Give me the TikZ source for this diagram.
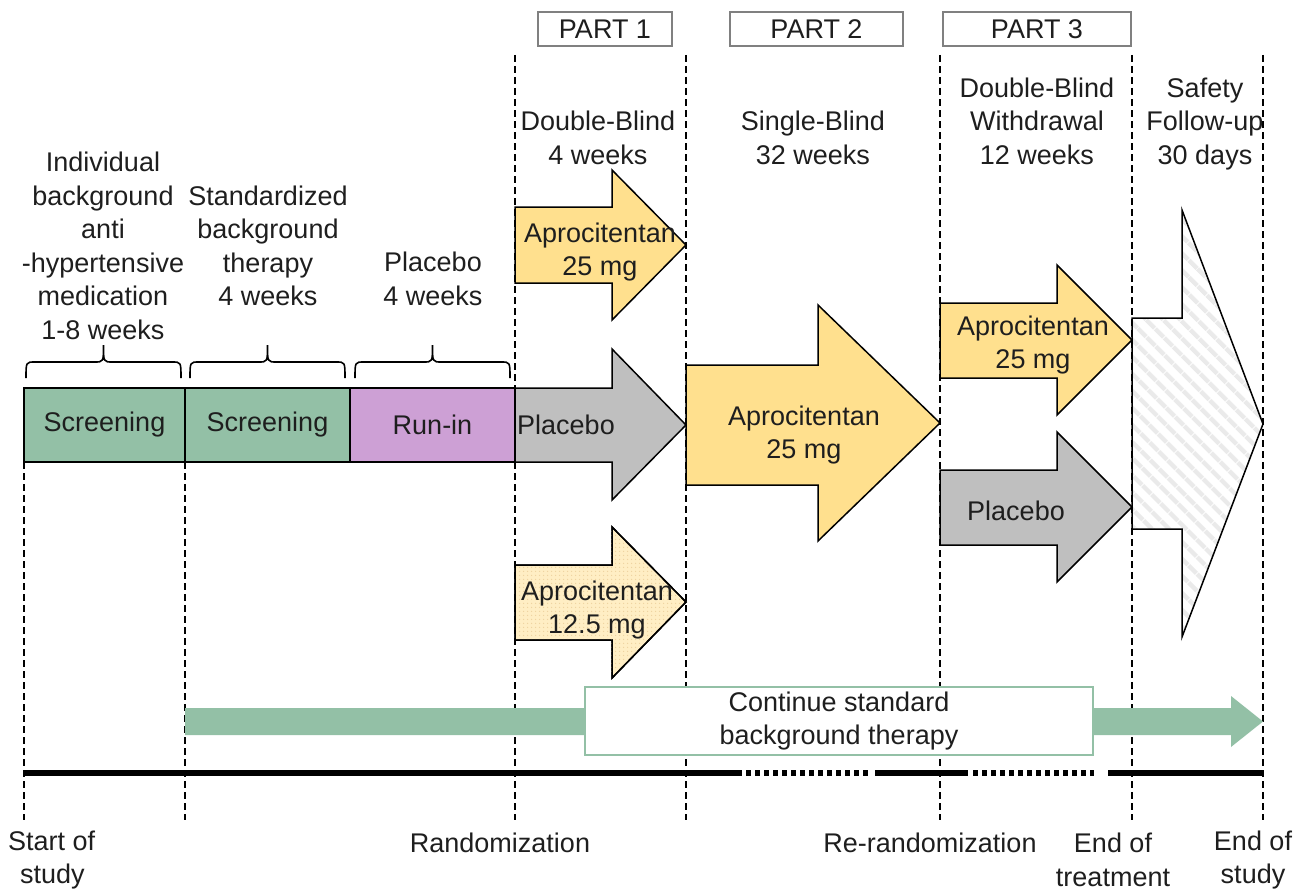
\documentclass[tikz,border=0pt]{standalone}
\usepackage{fontspec}
\setmainfont{Liberation Sans}
\usetikzlibrary{patterns,patterns.meta}

\definecolor{scrgreen}{RGB}{147,192,166}
\definecolor{runpurple}{RGB}{205,160,213}
\definecolor{apyellow}{RGB}{255,224,142}
\definecolor{aplight}{RGB}{255,238,196}
\definecolor{apdots}{RGB}{238,210,158}
\definecolor{plgray}{RGB}{191,191,191}
\definecolor{txt}{RGB}{30,30,30}
\definecolor{hatch}{RGB}{234,234,234}

\begin{document}
\begin{tikzpicture}[x=1pt,y=-1pt,
  lbl/.style={font=\fontsize{27}{33.5}\selectfont, text=txt, align=center, inner sep=0pt},
  vdash/.style={line width=1.8pt, dash pattern=on 7pt off 4pt},
  arr/.style={draw=black, line width=1.5pt, line join=miter},
  phase/.style={draw=black, line width=1.5pt, minimum height=74pt, inner sep=0pt,
                font=\fontsize{27}{33.5}\selectfont, text=txt},
  partbox/.style={draw=gray, line width=1.5pt, fill=white, minimum height=34pt, inner sep=0pt,
                  font=\fontsize{27}{33.5}\selectfont, text=txt},
  bracepath/.style={draw=black, line width=1.6pt},
  tline/.style={line width=6pt},
  tdot/.style={line width=6pt, dash pattern=on 5pt off 4pt}]

\useasboundingbox (0,0) rectangle (1307,891);

% ---- vertical dashed lines
\coordinate (v1t) at (24,462);  \coordinate (v1b) at (24,820);
\coordinate (v2t) at (185,462); \coordinate (v2b) at (185,820);
\coordinate (v3t) at (515,55);  \coordinate (v3b) at (515,820);
\coordinate (v4t) at (686,55);  \coordinate (v4b) at (686,820);
\coordinate (v5t) at (940,55);  \coordinate (v5b) at (940,820);
\coordinate (v6t) at (1132,55); \coordinate (v6b) at (1132,820);
\coordinate (v7t) at (1263,55); \coordinate (v7b) at (1263,820);
\foreach \i in {1,...,7} {\draw[vdash] (v\i t) -- (v\i b);}

% ---- phase boxes
\node[phase, fill=scrgreen, minimum width=161pt] (scr1) at (104.5,425) {Screening};
\node[phase, fill=scrgreen, minimum width=165pt] (scr2) at (267.5,425) {Screening};
\node[phase, fill=runpurple, minimum width=165pt] (run) at (432.5,425) {Run-in};

% ---- braces
\foreach \a/\b in {26/181, 190/345, 355/510} {
  \pgfmathsetmacro{\m}{(\a+\b)/2}
  \draw[bracepath] (\a,378) .. controls (\a,362) .. (\a+9,362) -- (\m-9,362)
     .. controls (\m,362) .. (\m,345) .. controls (\m,362) .. (\m+9,362)
     -- (\b-9,362) .. controls (\b,362) .. (\b,378);
}

% ---- header texts
\node[lbl] (t1) at (103,246) {Individual\\background\\anti\\-hypertensive\\medication\\1-8 weeks};
\node[lbl] (t2) at (268,246) {Standardized\\background\\therapy\\4 weeks};
\node[lbl] (t3) at (433,279) {Placebo\\4 weeks};
\node[lbl] (t4) at (598,138) {Double-Blind\\4 weeks};
\node[lbl] (t5) at (813,138) {Single-Blind\\32 weeks};
\node[lbl] (t6) at (1037,121) {Double-Blind\\Withdrawal\\12 weeks};
\node[lbl] (t7) at (1205,124) {Safety\\Follow-up\\30 days};

% ---- part boxes
\node[partbox, minimum width=134pt] (p1) at (605,29) {PART 1};
\node[partbox, minimum width=173pt] (p2) at (816.5,29) {PART 2};
\node[partbox, minimum width=188pt] (p3) at (1037,29) {PART 3};

% ---- arrows
% Part 1 top
\draw[arr, fill=apyellow] (515,207) -- (612,207) -- (612,170) -- (686,245) -- (612,320) -- (612,283) -- (515,283) -- cycle;
% Part 1 placebo
\draw[arr, fill=plgray] (515,388) -- (612,388) -- (612,349) -- (686,425) -- (612,500) -- (612,462) -- (515,462) -- cycle;
% Part 1 12.5 mg
\draw[arr, fill=aplight] (515,565) -- (612,565) -- (612,527) -- (686,602) -- (612,678) -- (612,640) -- (515,640) -- cycle;
\fill[pattern={Dots[radius=0.8pt, distance=4pt]}, pattern color=apdots] (516,566) -- (611,566) -- (611,530) -- (684,602) -- (611,675) -- (611,639) -- (516,639) -- cycle;
\draw[arr] (515,565) -- (612,565) -- (612,527) -- (686,602) -- (612,678) -- (612,640) -- (515,640) -- cycle;
% Part 2
\draw[arr, fill=apyellow] (686,365) -- (818,365) -- (818,305) -- (940,423) -- (818,541) -- (818,485) -- (686,485) -- cycle;
% Part 3 top
\draw[arr, fill=apyellow] (940,303) -- (1057,303) -- (1057,265) -- (1132,340) -- (1057,415) -- (1057,378) -- (940,378) -- cycle;
% Part 3 placebo
\draw[arr, fill=plgray] (940,470) -- (1057,470) -- (1057,432) -- (1132,507) -- (1057,582) -- (1057,545) -- (940,545) -- cycle;
% Safety follow-up
\fill[white] (1132,318) -- (1182,318) -- (1182,210) -- (1263,424) -- (1182,637) -- (1182,529) -- (1132,529) -- cycle;
\fill[pattern={Lines[angle=-45, distance=13pt, line width=5pt]}, pattern color=hatch] (1132,318) -- (1182,318) -- (1182,210) -- (1263,424) -- (1182,637) -- (1182,529) -- (1132,529) -- cycle;
\draw[arr] (1132,318) -- (1182,318) -- (1182,210) -- (1263,424) -- (1182,637) -- (1182,529) -- (1132,529) -- cycle;

% ---- arrow labels
\node[lbl] (a1) at (600,252) {Aprocitentan\\25 mg};
\node[lbl] (a2) at (566,425) {Placebo};
\node[lbl] (a3) at (597,610) {Aprocitentan\\12.5 mg};
\node[lbl] (a4) at (804,435) {Aprocitentan\\25 mg};
\node[lbl] (a5) at (1033,345) {Aprocitentan\\25 mg};
\node[lbl] (a6) at (1016,511) {Placebo};

% ---- continue background therapy
\fill[scrgreen] (185,708) -- (1231,708) -- (1231,696) -- (1263,721.5) -- (1231,747) -- (1231,735) -- (185,735) -- cycle;
\node[lbl, draw=scrgreen, line width=2pt, fill=white, minimum width=508pt, minimum height=68pt] (cont) at (839,721) {Continue standard\\background therapy};

% ---- timeline
\draw[tline] (24,773) -- (742,773);
\draw[tdot]  (746,773) -- (870,773);
\draw[tline] (875,773) -- (968,773);
\draw[tdot]  (973,773) -- (1094,773);
\draw[tline] (1108,773) -- (1263,773);

% ---- bottom labels
\node[lbl, align=left, anchor=west] (b1) at (8,860) {Start of\\\ \,study};
\node[lbl] (b2) at (500,843) {Randomization};
\node[lbl] (b3) at (930,843) {Re-randomization};
\node[lbl] (b4) at (1113,860) {End of\\treatment};
\node[lbl] (b5) at (1253,860) {End of\\study};
\end{tikzpicture}
\end{document}
